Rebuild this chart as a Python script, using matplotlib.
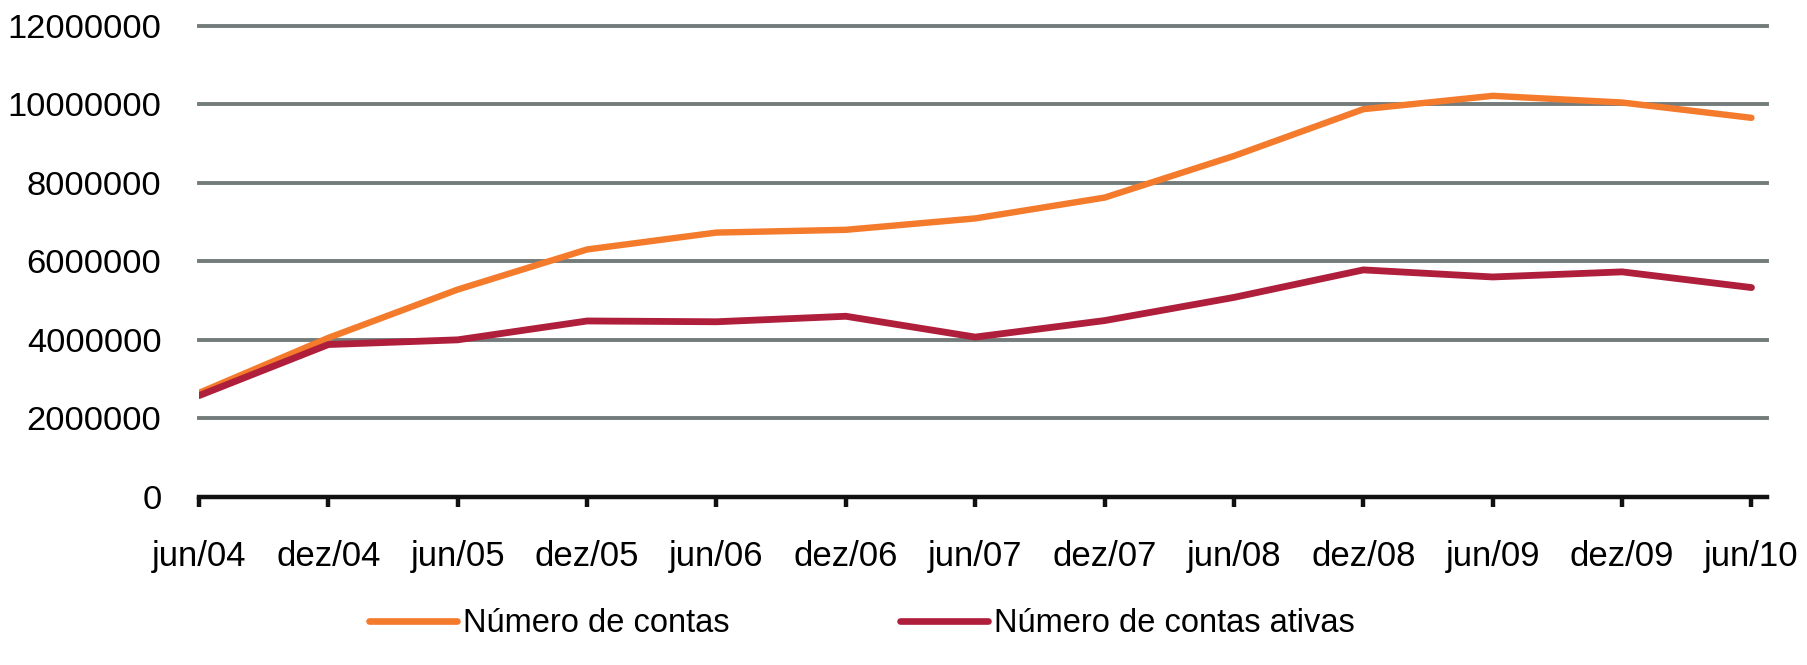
import matplotlib
matplotlib.use("Agg")
import matplotlib.pyplot as plt
import numpy as np

# categories (semesters) and series values
periods = ["jun/04", "dez/04", "jun/05", "dez/05", "jun/06", "dez/06", "jun/07",
           "dez/07", "jun/08", "dez/08", "jun/09", "dez/09", "jun/10"]
contas = [2650000, 4050000, 5280000, 6300000, 6730000, 6800000, 7090000,
          7620000, 8680000, 9870000, 10210000, 10040000, 9650000]
contas_ativas = [2580000, 3880000, 4000000, 4480000, 4460000, 4600000, 4070000,
                 4490000, 5080000, 5780000, 5600000, 5730000, 5330000]
series_labels = ["Número de contas", "Número de contas ativas"]
y_ticks = [0, 2000000, 4000000, 6000000, 8000000, 10000000, 12000000]

ORANGE = "#F47A2C"
RED = "#AF1F3B"
GRID = "#737B7B"

plt.rcParams["font.family"] = ["Liberation Sans", "DejaVu Sans"]

W, H = 1808, 665
fig = plt.figure(figsize=(W / 100, H / 100), dpi=100)
ax = fig.add_axes([199 / W, 1 - 497 / H, (1767 - 199) / W, (497 - 25.5) / H])

x = np.arange(len(periods))
ax.plot(x, contas, color=ORANGE, lw=4.6, solid_capstyle="round",
        solid_joinstyle="round", label=series_labels[0], zorder=3)
ax.plot(x, contas_ativas, color=RED, lw=4.9, solid_capstyle="round",
        solid_joinstyle="round", label=series_labels[1], zorder=4)

ax.set_xlim(0, 12.12)
ax.set_ylim(0, 12000000)
ax.set_yticks(y_ticks)
ax.set_yticklabels([str(v) for v in y_ticks], fontsize=24.8)
ax.set_xticks(x)
ax.set_xticklabels(periods, fontsize=25)

# horizontal grid (the top one sits on the axes edge, so no clipping)
for v in y_ticks[1:]:
    ax.axhline(v, color=GRID, lw=2.8, zorder=1, clip_on=False)

for s in ("left", "right", "top"):
    ax.spines[s].set_visible(False)
ax.spines["bottom"].set_linewidth(3.2)
ax.spines["bottom"].set_color("#111111")
ax.spines["bottom"].set_zorder(5)
ax.tick_params(axis="y", length=0, pad=27)
ax.tick_params(axis="x", direction="out", length=7, width=3.2, color="#111111", pad=24)

leg = ax.legend(loc="center left", bbox_to_anchor=(369 / W, 1 - 624 / H),
                bbox_transform=fig.transFigure, ncol=2, frameon=False,
                borderpad=0, borderaxespad=0, handlelength=2.7, handletextpad=0.19,
                columnspacing=5.2, prop={"size": 23.5})
for line in leg.get_lines():
    line.set_linewidth(4.8)
    line.set_solid_capstyle("round")

fig.savefig("out.png", dpi=100)
